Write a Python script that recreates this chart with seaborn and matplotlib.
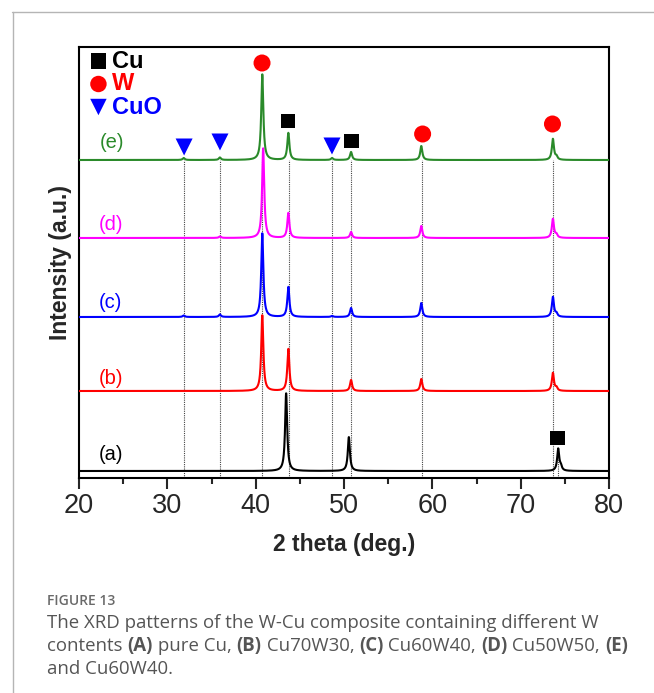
import numpy as np
import pandas as pd
import matplotlib
matplotlib.use("Agg")
import matplotlib.pyplot as plt
from matplotlib.lines import Line2D
import seaborn as sns

# ---------------- data ----------------
x_min, x_max = 20, 80
y_top = 431  # intensity units (arbitrary)

series_labels = ["(a)", "(b)", "(c)", "(d)", "(e)"]
series_colors = ["#000000", "#ff0000", "#0000ff", "#ff00ff", "#2a8a2a"]
series_offsets = [7, 87, 161, 240, 318]

a_pos = [43.45, 50.55, 74.25, 74.55]
a_hgt = [78, 34, 22, 4]
b_pos = [40.75, 43.70, 50.80, 58.75, 73.65, 74.05]
b_hgt = [76, 42, 11, 12, 18, 3]
c_pos = [31.85, 35.95, 40.75, 43.70, 48.65, 50.80, 58.75, 73.65, 74.05]
c_hgt = [1.5, 2.5, 84, 30, 1.0, 9, 14, 20, 3]
d_pos = [35.95, 40.85, 43.70, 50.80, 58.75, 73.65, 74.05]
d_hgt = [1.5, 90, 25, 6, 12, 19, 3]
e_pos = [31.85, 35.95, 40.75, 43.70, 48.65, 50.80, 58.75, 73.65, 74.05]
e_hgt = [2.0, 2.5, 86, 27, 2.0, 8, 14, 21, 3]
peak_pos = [a_pos, b_pos, c_pos, d_pos, e_pos]
peak_hgt = [a_hgt, b_hgt, c_hgt, d_hgt, e_hgt]
peak_hwhm = 0.14

label_x = [23.6, 23.6, 23.6, 23.6, 23.7]
label_y = [23, 100, 175, 253, 335]

# reference lines
ref_x = [31.85, 35.95, 40.75, 43.75, 48.65, 50.75, 58.80, 73.70]
ref_top = 318
ref2_x = [74.25]
ref2_top = 30

# phase markers
cu_mx = [43.66, 50.80, 74.20]
cu_my = [357, 337, 40]
w_mx = [40.72, 58.90, 73.60]
w_my = [415, 344, 354]
cuo_mx = [31.90, 35.96, 48.64]
cuo_my = [331, 336, 332]

legend_names = ["Cu", "W", "CuO"]
legend_colors = ["#000000", "#ff0000", "#0000ff"]
legend_markers = ["s", "o", "v"]
legend_y = [417, 394, 371]

x_ticks = [20, 30, 40, 50, 60, 70, 80]
x_label = "2 theta (deg.)"
y_label = "Intensity (a.u.)"

cap_title = "FIGURE 13"
cap_line1 = [("The XRD patterns of the W-Cu composite containing different W", False)]
cap_line2 = [("contents ", False), ("(A)", True), (" pure Cu, ", False), ("(B)", True),
             (" Cu70W30, ", False), ("(C)", True), (" Cu60W40, ", False), ("(D)", True),
             (" Cu50W50, ", False), ("(E)", True)]
cap_line3 = [("and Cu60W40.", False)]

# ---------------- figure ----------------
W, H, DPI = 654, 693, 100
sns.set_style("white")
plt.rcParams["font.family"] = ["Liberation Sans", "DejaVu Sans"]

fig = plt.figure(figsize=(W / DPI, H / DPI), dpi=DPI)
ax = fig.add_axes([79 / W, 1 - 478 / H, (609 - 79) / W, (478 - 47) / H])

grid = np.linspace(x_min, x_max, 3001)
frames = []
for lab, off, pos, hgt in zip(series_labels, series_offsets, peak_pos, peak_hgt):
    y = np.full_like(grid, float(off))
    for p, h in zip(pos, hgt):
        y += h / (1 + ((grid - p) / peak_hwhm) ** 2)
    frames.append(pd.DataFrame({"theta": grid, "I": y, "sample": lab}))
df = pd.concat(frames, ignore_index=True)

# reference lines (behind)
for xv in ref_x:
    ax.plot([xv, xv], [0, ref_top], color="#444444", lw=0.8, ls=(0, (1, 1)), zorder=1)
for xv in ref2_x:
    ax.plot([xv, xv], [0, ref2_top], color="#444444", lw=0.8, ls=(0, (1, 1)), zorder=1)

sns.lineplot(data=df, x="theta", y="I", hue="sample", palette=dict(zip(series_labels, series_colors)),
             hue_order=series_labels, linewidth=1.5, legend=False, ax=ax, zorder=3, estimator=None)

for lab, col, lx, ly in zip(series_labels, series_colors, label_x, label_y):
    ax.text(lx, ly, lab, color=col, fontsize=14.5, ha="center", va="center")

sns.scatterplot(x=cu_mx, y=cu_my, marker="s", s=115, color="black", edgecolor="none", ax=ax, zorder=5)
sns.scatterplot(x=w_mx, y=w_my, marker="o", s=150, color="#ff0000", edgecolor="none", ax=ax, zorder=5)
sns.scatterplot(x=cuo_mx, y=cuo_my, marker="v", s=150, color="#0000ff", edgecolor="none", ax=ax, zorder=5)

# legend (drawn as text + markers in the axes)
for name, col, mk, ly in zip(legend_names, legend_colors, legend_markers, legend_y):
    ax.scatter([22.2], [ly], marker=mk, s=140 if mk != "s" else 125, color=col, edgecolor="none", zorder=5)
    ax.text(23.75, ly, name, color=col, fontsize=17, fontweight="bold", ha="left", va="center")

ax.set_xlim(x_min, x_max)
ax.set_ylim(0, y_top)
ax.set_xticks(x_ticks)
ax.set_xticks(np.arange(25, 80, 10), minor=True)
ax.set_yticks([])
ax.tick_params(axis="x", which="major", direction="out", length=8, width=1.5, labelsize=19.5, pad=3, bottom=True)
ax.tick_params(axis="x", which="minor", direction="out", length=4, width=1.5, bottom=True)
ax.set_xlabel(x_label, fontsize=16.5, fontweight="bold", labelpad=10)
ax.set_ylabel(y_label, fontsize=16.5, fontweight="bold", labelpad=5)
for sp in ax.spines.values():
    sp.set_visible(True)
    sp.set_linewidth(1.5)
    sp.set_color("black")

# page frame lines
fig.add_artist(Line2D([12 / W, 1], [1 - 12 / H, 1 - 12 / H], color="#b5b5b5", lw=1))
fig.add_artist(Line2D([13 / W, 13 / W], [0, 1 - 12 / H], color="#b5b5b5", lw=1))

# caption
renderer = fig.canvas.get_renderer()
cap_font = ["Open Sans", "DejaVu Sans"]


def text_width(s, **kw):
    t1 = fig.text(0, 0, "|" + s + "|", **kw)
    t2 = fig.text(0, 0, "||", **kw)
    w = t1.get_window_extent(renderer).width - t2.get_window_extent(renderer).width
    t1.remove(); t2.remove()
    return w


def draw_line(segments, x0, y_px, size, color):
    x = x0
    for s, bold in segments:
        kw = dict(fontsize=size, family=cap_font, fontweight="bold" if bold else "normal", color=color)
        fig.text(x / W, 1 - y_px / H, s, ha="left", va="baseline", **kw)
        x += text_width(s, **kw)


fig.text(47 / W, 1 - 605 / H, cap_title, fontsize=10, family=cap_font, fontweight="semibold",
         color="#6a6a6a", ha="left", va="baseline")
draw_line(cap_line1, 47, 628, 13.4, "#555555")
draw_line(cap_line2, 47, 651, 13.4, "#555555")
draw_line(cap_line3, 47, 674, 13.4, "#555555")

fig.savefig("out.png", dpi=DPI)
